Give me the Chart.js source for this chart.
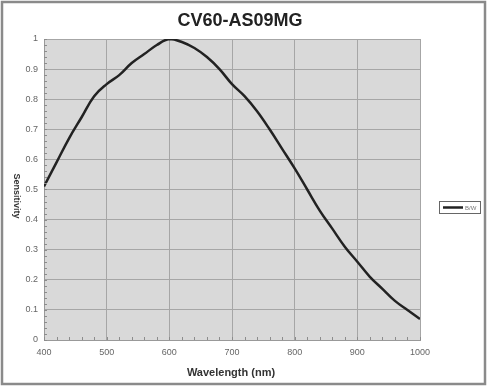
<!DOCTYPE html>
<html>
<head>
<meta charset="utf-8">
<script src="https://cdn.jsdelivr.net/npm/chart.js@4/dist/chart.umd.min.js"></script>
<style>
  html, body { margin: 0; padding: 0; background: #fff; }
  #wrap { width: 487px; height: 386px; }
</style>
</head>
<body>
<div id="wrap"><canvas id="chart" width="487" height="386"></canvas></div>
<script>
    // values
    const wavelengths = [400, 420, 440, 460, 480, 500, 520, 540, 560, 580, 600, 620, 640, 660, 680, 700,
                         720, 740, 760, 780, 800, 820, 840, 860, 880, 900, 920, 940, 960, 980, 1000];
    const sensitivity = [0.51, 0.59, 0.67, 0.74, 0.81, 0.85, 0.88, 0.92, 0.95, 0.98, 1.0, 0.99, 0.97, 0.94, 0.90, 0.85,
                         0.81, 0.76, 0.70, 0.635, 0.57, 0.50, 0.43, 0.37, 0.31, 0.26, 0.21, 0.17, 0.13, 0.10, 0.07];
    const seriesName = 'B/W';
    const chartTitle = 'CV60-AS09MG';
    const xTitle = 'Wavelength (nm)';
    const yTitle = 'Sensitivity';

    const points = wavelengths.map(function(w, i) { return { x: w, y: sensitivity[i] }; });

    const decor = {
        id: 'decor',
        beforeDraw: function(chart) {
            const ctx = chart.ctx;
            const a = chart.chartArea;
            ctx.save();
            ctx.fillStyle = '#fff';
            ctx.fillRect(0, 0, chart.width, chart.height);
            ctx.strokeStyle = '#8a8a8a';
            ctx.lineWidth = 2.5;
            ctx.strokeRect(2, 2, chart.width - 4, chart.height - 4);
            ctx.fillStyle = '#d9d9d9';
            ctx.fillRect(a.left, a.top, a.right - a.left, a.bottom - a.top);
            ctx.restore();
        },
        afterDraw: function(chart) {
            const ctx = chart.ctx;
            const a = chart.chartArea;
            const xs = chart.scales.x, ys = chart.scales.y;
            ctx.save();
            // minor ticks
            ctx.strokeStyle = '#8c8c8c';
            ctx.lineWidth = 1;
            ctx.beginPath();
            for (let v = 0; v <= 1.0001; v += 0.02) {
                const py = Math.round(ys.getPixelForValue(v)) + 0.5;
                ctx.moveTo(a.left, py); ctx.lineTo(a.left + 3, py);
            }
            for (let w = 400; w <= 1000; w += 20) {
                const px = Math.round(xs.getPixelForValue(w)) + 0.5;
                ctx.moveTo(px, a.bottom); ctx.lineTo(px, a.bottom - 3);
            }
            ctx.stroke();
            // title
            ctx.fillStyle = '#222';
            ctx.font = 'bold 18px "Liberation Sans", Arial, sans-serif';
            ctx.textAlign = 'center';
            ctx.textBaseline = 'middle';
            ctx.fillText(chartTitle, 240, 21);
            // axis titles
            ctx.fillStyle = '#333';
            ctx.font = 'bold 11px "Liberation Sans", Arial, sans-serif';
            ctx.fillText(xTitle, 231, 373);
            ctx.font = 'bold 9px "Liberation Sans", Arial, sans-serif';
            ctx.translate(16, 196);
            ctx.rotate(Math.PI / 2);
            ctx.fillText(yTitle, 0, 0);
            ctx.restore();
            // legend
            ctx.save();
            ctx.strokeStyle = '#666';
            ctx.lineWidth = 1;
            ctx.strokeRect(439.5, 201.5, 41, 12);
            ctx.strokeStyle = '#222';
            ctx.lineWidth = 2.5;
            ctx.beginPath();
            ctx.moveTo(443, 207.5); ctx.lineTo(463, 207.5);
            ctx.stroke();
            ctx.fillStyle = '#777';
            ctx.font = '6px "Liberation Sans", Arial, sans-serif';
            ctx.textBaseline = 'middle';
            ctx.fillText(seriesName, 465, 208);
            ctx.restore();
        }
    };

    new Chart(document.getElementById('chart'), {
        type: 'line',
        data: {
            datasets: [{
                label: seriesName,
                data: points,
                borderColor: '#222',
                borderWidth: 2.5,
                pointRadius: 0,
                tension: 0.4,
                fill: false
            }]
        },
        options: {
            responsive: false,
            animation: false,
            layout: { padding: { left: 0, right: 67, top: 39, bottom: 0 } },
            plugins: {
                legend: { display: false },
                tooltip: { enabled: false },
                title: { display: false }
            },
            scales: {
                x: {
                    type: 'linear',
                    min: 400, max: 1000,
                    ticks: {
                        stepSize: 100, padding: 7, color: '#666',
                        font: { size: 9, family: '"Liberation Sans", Arial, sans-serif' },
                        callback: function(v) { return String(v); }
                    },
                    grid: { color: '#a6a6a6', drawTicks: false },
                    border: { color: '#999' },
                    afterFit: function(s) { s.height = 46; }
                },
                y: {
                    min: 0, max: 1,
                    ticks: {
                        stepSize: 0.1, padding: 6, color: '#666',
                        font: { size: 9, family: '"Liberation Sans", Arial, sans-serif' },
                        callback: function(v) { return String(Math.round(v * 10) / 10); }
                    },
                    grid: { color: '#a6a6a6', drawTicks: false },
                    border: { color: '#999' },
                    afterFit: function(s) { s.width = 44; }
                }
            }
        },
        plugins: [decor]
    });
</script>
</body>
</html>
